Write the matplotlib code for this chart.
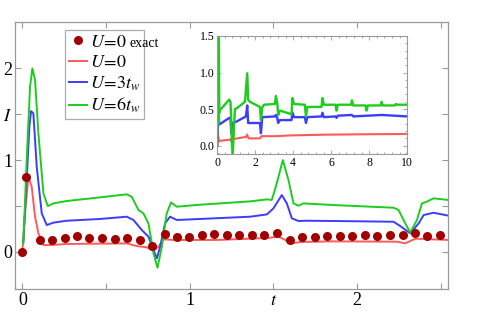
import numpy as np
import matplotlib
matplotlib.use('Agg')
import matplotlib.pyplot as plt

plt.rcParams['font.family'] = ['Liberation Serif', 'DejaVu Serif']
plt.rcParams['mathtext.fontset'] = 'stix'

# main panel: U=0 exact (dots)
t_exact = [0.0, 0.02, 0.106, 0.176, 0.255, 0.329, 0.399, 0.479, 0.552, 0.626, 0.704, 0.774,
           0.851, 0.927, 0.997, 1.073, 1.147, 1.222, 1.296, 1.372, 1.447, 1.521, 1.599, 1.671,
           1.747, 1.824, 1.898, 1.970, 2.046, 2.121, 2.197, 2.273, 2.345, 2.420, 2.498]
i_exact = [0.0, 0.818, 0.128, 0.128, 0.149, 0.168, 0.153, 0.153, 0.138, 0.149, 0.128, 0.062,
           0.189, 0.160, 0.164, 0.178, 0.189, 0.178, 0.178, 0.182, 0.186, 0.208, 0.128, 0.157,
           0.164, 0.171, 0.175, 0.171, 0.186, 0.167, 0.178, 0.186, 0.200, 0.175, 0.178]

# U=0
t_u0 = [0.0, 0.016, 0.036, 0.056, 0.076, 0.096, 0.126, 0.166, 0.265, 0.465, 0.624, 0.684,
        0.744, 0.784, 0.814, 0.843, 0.903, 1.163, 1.462, 1.531, 1.581, 1.611, 1.661, 1.860,
        2.239, 2.289, 2.349, 2.548]
i_u0 = [0.0, 0.418, 0.818, 0.709, 0.382, 0.200, 0.073, 0.073, 0.084, 0.088, 0.091, 0.062,
        0.048, 0.011, 0.055, 0.135, 0.128, 0.128, 0.149, 0.164, 0.120, 0.091, 0.106, 0.113,
        0.109, 0.091, 0.142, 0.128]

# U=3t_w
t_u3 = [0.006, 0.026, 0.042, 0.052, 0.066, 0.086, 0.116, 0.146, 0.186, 0.265, 0.465, 0.624,
        0.664, 0.714, 0.754, 0.784, 0.804, 0.824, 0.853, 0.883, 0.923, 1.063, 1.362, 1.462,
        1.501, 1.551, 1.581, 1.611, 1.651, 1.701, 1.860, 2.219, 2.259, 2.319, 2.369, 2.399,
        2.458, 2.548]
i_u3 = [0.109, 0.782, 1.364, 1.534, 1.509, 0.927, 0.418, 0.291, 0.317, 0.338, 0.357, 0.382,
        0.346, 0.237, 0.164, 0.019, -0.072, 0.055, 0.309, 0.382, 0.346, 0.357, 0.382, 0.407,
        0.473, 0.618, 0.527, 0.364, 0.335, 0.338, 0.335, 0.327, 0.280, 0.200, 0.309, 0.400,
        0.425, 0.393]

# U=6t_w
t_u6 = [0.006, 0.026, 0.046, 0.060, 0.076, 0.096, 0.126, 0.152, 0.186, 0.265, 0.465, 0.624,
        0.654, 0.694, 0.724, 0.754, 0.784, 0.808, 0.834, 0.863, 0.889, 0.923, 1.063, 1.362,
        1.462, 1.491, 1.521, 1.557, 1.591, 1.621, 1.651, 1.681, 1.860, 2.219, 2.249, 2.289,
        2.319, 2.359, 2.389, 2.418, 2.458, 2.548]
i_u6 = [0.091, 1.0, 1.800, 2.0, 1.872, 1.291, 0.636, 0.498, 0.527, 0.553, 0.593, 0.626,
        0.600, 0.455, 0.418, 0.309, -0.018, -0.174, 0.055, 0.418, 0.538, 0.491, 0.513, 0.549,
        0.571, 0.564, 0.746, 1.0, 0.782, 0.527, 0.502, 0.527, 0.509, 0.480, 0.455, 0.309,
        0.208, 0.346, 0.527, 0.546, 0.582, 0.564]

# inset, long times
ti_u6 = [0.0, 0.03, 0.06, 0.08, 0.11, 0.14, 0.23, 0.63, 0.70, 0.75, 0.81, 0.88, 0.93, 1.02,
         1.46, 1.58, 1.63, 1.72, 2.25, 2.30, 2.37, 2.46, 3.04, 3.09, 3.16, 3.21, 3.30, 3.91,
         3.96, 4.04, 4.61, 4.67, 4.74, 5.49, 5.54, 5.61, 6.23, 6.28, 6.35, 7.04, 7.09, 7.16,
         7.81, 7.86, 7.93, 8.60, 8.65, 8.72, 9.35, 9.40, 9.47, 10.0]
ii_u6 = [0.0, 1.6, 0.3, 1.6, 0.45, 0.49, 0.51, 0.63, 0.60, 0.22, -0.15, 0.22, 0.50, 0.51,
         0.60, 0.99, 0.63, 0.60, 0.53, 0.35, 0.52, 0.56, 0.57, 0.68, 0.58, 0.42, 0.48, 0.43,
         0.65, 0.57, 0.56, 0.40, 0.53, 0.53, 0.65, 0.56, 0.56, 0.48, 0.56, 0.56, 0.62, 0.55,
         0.55, 0.48, 0.55, 0.55, 0.60, 0.55, 0.55, 0.57, 0.56, 0.56]
ti_u3 = [0.0, 0.05, 0.11, 0.23, 0.63, 0.70, 0.74, 0.79, 1.02, 1.51, 1.58, 1.63, 2.25, 2.30,
         2.37, 3.04, 3.09, 3.16, 3.21, 3.30, 3.91, 3.96, 4.04, 4.61, 4.67, 4.74, 5.49, 5.54,
         5.61, 6.23, 6.28, 6.35, 7.09, 7.16, 8.65, 10.0]
ii_u3 = [0.0, 0.50, 0.29, 0.31, 0.38, 0.37, 0.17, 0.31, 0.33, 0.40, 0.55, 0.31, 0.31, 0.17,
         0.39, 0.40, 0.42, 0.38, 0.31, 0.35, 0.35, 0.45, 0.39, 0.39, 0.31, 0.39, 0.40, 0.45,
         0.39, 0.40, 0.38, 0.41, 0.42, 0.40, 0.42, 0.40]
ti_u0 = [0.0, 0.04, 0.09, 0.23, 0.63, 0.70, 0.75, 0.84, 1.51, 1.58, 1.65, 2.25, 2.33, 3.12,
         3.82, 5.58, 7.33, 10.0]
ii_u0 = [0.0, 0.17, 0.06, 0.07, 0.08, 0.09, 0.05, 0.09, 0.12, 0.15, 0.10, 0.10, 0.13, 0.13,
         0.14, 0.15, 0.155, 0.16]

gray = '#999999'
c_dot = '#A00000'
c_u0 = '#FF5A5A'
c_u3 = '#3C3CFF'
c_u6 = '#1ECC1E'

fig = plt.figure(figsize=(5.04, 3.14), dpi=100)
ax = fig.add_axes([0.0304, 0.0796, 0.859, 0.850])

ax.plot(t_exact, i_exact, 'o', color=c_dot, ms=6.5, mec='none', label=r'$U\!=\!0$', zorder=3)
ax.plot(t_u0, i_u0, color=c_u0, lw=1.4, label=r'$U\!=\!0$')
ax.plot(t_u3, i_u3, color=c_u3, lw=1.4, label=r'$U\!=\!3t_w$')
ax.plot(t_u6, i_u6, color=c_u6, lw=1.4, label=r'$U\!=\!6t_w$')

ax.set_xlim(-0.042, 2.546)
ax.set_ylim(-0.407, 2.505)
ax.set_xticks([0, 0.5, 1, 1.5, 2, 2.5])
ax.set_xticklabels(['0', '', '1', '$t$', '2', ''])
ax.set_yticks([0, 0.5, 1, 1.5, 2])
ax.set_yticklabels(['0', '', '1', '$I$', '2'])
ax.tick_params(direction='in', top=True, right=True, color=gray, length=4, width=0.8,
               labelsize=13, pad=2)
for s in ax.spines.values():
    s.set_color(gray)
    s.set_linewidth(0.9)

leg = ax.legend(loc='upper left', bbox_to_anchor=(0.115, 0.970), borderaxespad=0,
                fontsize=13, handlelength=1.0, handletextpad=0.2, labelspacing=0.18,
                borderpad=0.2, fancybox=False, frameon=True)
leg.get_frame().set_edgecolor(gray)
leg.get_frame().set_linewidth(0.9)

# smaller "exact" after the first legend label
fig.canvas.draw()
r = fig.canvas.get_renderer()
lt = leg.get_texts()[0]
bb = lt.get_window_extent(r)
lt.set_text(r'$U\!=\!0\hspace{1.0}$')
x0, y0 = fig.transFigure.inverted().transform((bb.x1 + 2, bb.y0 + 1))
fig.text(x0, y0, 'exact', fontsize=10, va='bottom', ha='left', zorder=10)

# inset
axi = fig.add_axes([0.431, 0.5086, 0.377, 0.3768])
axi.plot(ti_u0, ii_u0, color=c_u0, lw=1.5)
axi.plot(ti_u3, ii_u3, color=c_u3, lw=1.7)
axi.plot(ti_u6, ii_u6, color=c_u6, lw=1.7)
axi.set_xlim(0, 10)
axi.set_ylim(-0.118, 1.5)
axi.set_xticks([0, 2, 4, 6, 8, 10])
axi.set_yticks([0.0, 0.5, 1.0, 1.5])
axi.set_yticklabels(['0.0', '0.5', '1.0', '1.5'])
axi.set_xticks(np.arange(0, 10.01, 0.4), minor=True)
axi.set_yticks(np.arange(-0.1, 1.51, 0.1), minor=True)
axi.tick_params(which='both', direction='in', top=True, right=True, color=gray,
                labelsize=8.5, pad=2, width=0.6)
axi.tick_params(which='major', length=3)
axi.tick_params(which='minor', length=1.5)
for s in axi.spines.values():
    s.set_color(gray)
    s.set_linewidth(0.8)

fig.savefig('out.png', dpi=100)
